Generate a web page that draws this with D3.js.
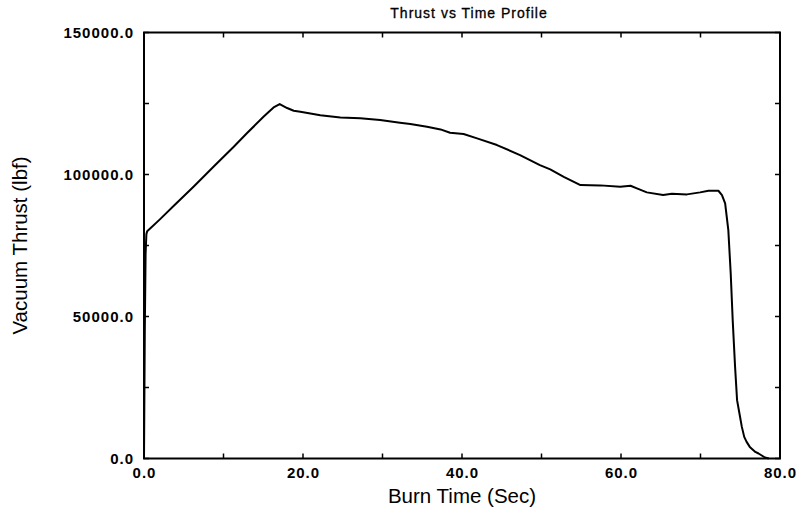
<!DOCTYPE html>
<html><head><meta charset="utf-8">
<script src="https://cdn.jsdelivr.net/npm/d3@7"></script>
<style>body{margin:0;background:#fff}svg{display:block}</style>
</head><body><svg id="c" width="797" height="510"></svg>
<script>
const title = "Thrust vs Time Profile";
const xLabel = "Burn Time (Sec)";
const yLabel = "Vacuum Thrust (lbf)";
const xTickLabels = [0, 20, 40, 60, 80];
const yTickLabels = [0, 50000, 100000, 150000];
const burnTime = [0, 0.1, 0.2, 0.3, 0.4, 2.0, 3.75, 6.26, 8.77, 11.29, 12.97, 15.06, 16.3, 17.07, 18.0, 18.83, 19.67, 22.18, 24.7, 27.2, 29.7, 32.2, 33.5, 35.6, 37.3, 38.5, 40.2, 41.9, 44.4, 47.3, 49.8, 51.1, 52.8, 54.9, 57.4, 59.9, 61.2, 62.0, 63.25, 65.3, 66.4, 68.3, 69.95, 71.0, 72.25, 72.7, 73.1, 73.5, 73.8, 74.05, 74.35, 74.6, 74.9, 75.2, 75.5, 75.8, 76.2, 76.9, 77.3, 78.1, 78.6];
const thrust = [0, 45000, 72000, 79000, 80000, 84200, 89000, 95800, 102800, 109800, 114600, 120400, 123600, 124810, 123400, 122460, 122100, 120900, 120100, 119770, 119180, 118230, 117770, 116820, 115880, 114700, 114240, 112730, 110370, 106840, 103320, 101800, 99200, 96280, 96170, 95680, 96030, 95100, 93710, 92750, 93220, 93000, 93710, 94280, 94280, 92750, 89830, 80420, 65170, 48720, 32270, 20540, 15850, 11130, 7610, 5850, 4090, 2330, 1760, 350, 0];

const svg = d3.select("#c");
const L = 144, R = 780, T = 32.5, B = 458.5;
const x = d3.scaleLinear().domain([0, 80]).range([L, R]);
const y = d3.scaleLinear().domain([0, 150000]).range([B, T]);
const font = "Liberation Sans, Arial, sans-serif";

// ticks (inward) on all four sides
const tk = 5;
const xt = d3.range(0, 81, 10), yt = d3.range(0, 150001, 25000);
const g = svg.append("g").attr("stroke", "#000").attr("stroke-width", 1.5);
xt.forEach(v => {
  g.append("line").attr("x1", x(v)).attr("x2", x(v)).attr("y1", B).attr("y2", B - tk);
  g.append("line").attr("x1", x(v)).attr("x2", x(v)).attr("y1", T).attr("y2", T + tk);
});
yt.forEach(v => {
  g.append("line").attr("y1", y(v)).attr("y2", y(v)).attr("x1", L).attr("x2", L + tk);
  g.append("line").attr("y1", y(v)).attr("y2", y(v)).attr("x1", R).attr("x2", R - tk);
});
svg.append("rect").attr("x", L).attr("y", T).attr("width", R - L).attr("height", B - T)
  .attr("fill", "none").attr("stroke", "#000").attr("stroke-width", 2);

// tick labels
svg.append("g").selectAll("text").data(xTickLabels).join("text")
  .attr("x", d => x(d) + 0.5).attr("y", B + 19).attr("text-anchor", "middle")
  .attr("font-family", font).attr("font-weight", "bold").attr("font-size", 15).attr("letter-spacing", 1)
  .text(d => d.toFixed(1));
svg.append("g").selectAll("text").data(yTickLabels).join("text")
  .attr("x", L - 10).attr("y", d => y(d) + 5).attr("text-anchor", "end")
  .attr("font-family", font).attr("font-weight", "bold").attr("font-size", 15).attr("letter-spacing", 1)
  .text(d => d.toFixed(1));

// line
const pts = burnTime.map((t, i) => [t, thrust[i]]);
svg.append("path").datum(pts)
  .attr("d", d3.line().x(d => x(d[0])).y(d => y(d[1])).curve(d3.curveLinear))
  .attr("fill", "none").attr("stroke", "#000").attr("stroke-width", 2).attr("stroke-linejoin", "round");

// labels
svg.append("text").attr("x", (L + R) / 2 + 7).attr("y", 18).attr("text-anchor", "middle")
  .attr("font-family", font).attr("font-size", 14).attr("letter-spacing", 1)
  .attr("stroke", "#000").attr("stroke-width", 0.3).text(title);
svg.append("text").attr("x", (L + R) / 2).attr("y", 503).attr("text-anchor", "middle")
  .attr("font-family", font).attr("font-size", 20.5).text(xLabel);
svg.append("text").attr("transform", `translate(27,${(T + B) / 2}) rotate(-90)`).attr("text-anchor", "middle")
  .attr("font-family", font).attr("font-size", 20.5).text(yLabel);
</script></body></html>
